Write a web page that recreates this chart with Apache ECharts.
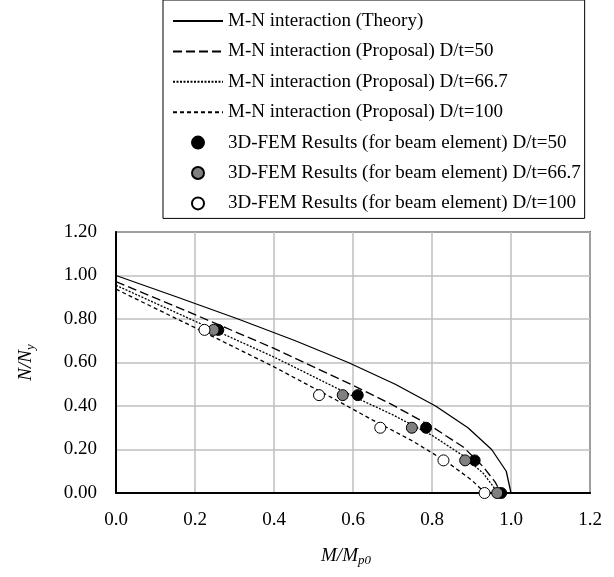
<!DOCTYPE html>
<html>
<head>
<meta charset="utf-8">
<script src="https://cdn.jsdelivr.net/npm/echarts@6/dist/echarts.min.js"></script>
<style>html,body{margin:0;padding:0;background:#fff}#c{width:614px;height:577px}</style>
</head>
<body>
<div id="c"></div>
<script>
// ---- data (M/Mp0, N/Ny) ----
var seriesNames = [
  'M-N interaction (Theory)',
  'M-N interaction (Proposal) D/t=50',
  'M-N interaction (Proposal) D/t=66.7',
  'M-N interaction (Proposal) D/t=100',
  '3D-FEM Results (for beam element) D/t=50',
  '3D-FEM Results (for beam element) D/t=66.7',
  '3D-FEM Results (for beam element) D/t=100'
];
var theory = [[0,1.0],[0.156,0.9],[0.309,0.8],[0.454,0.7],[0.588,0.6],[0.707,0.5],[0.809,0.4],[0.891,0.3],[0.951,0.2],[0.988,0.1],[1.0,0]];
var prop50 = [[0,0.972],[0.2,0.82],[0.4,0.665],[0.6,0.495],[0.7,0.405],[0.8,0.305],[0.88,0.21],[0.93,0.12],[0.96,0.05],[0.975,0]];
var prop667 = [[0,0.955],[0.2,0.79],[0.4,0.625],[0.6,0.445],[0.7,0.36],[0.8,0.265],[0.88,0.17],[0.93,0.09],[0.955,0.03],[0.965,0]];
var prop100 = [[0,0.937],[0.2,0.76],[0.4,0.58],[0.55,0.435],[0.65,0.335],[0.75,0.24],[0.84,0.14],[0.9,0.06],[0.935,0]];
var fem50 = [[0.259,0.75],[0.612,0.45],[0.785,0.30],[0.908,0.15],[0.975,0]];
var fem667 = [[0.247,0.75],[0.574,0.45],[0.749,0.30],[0.884,0.15],[0.965,0]];
var fem100 = [[0.224,0.75],[0.514,0.45],[0.669,0.30],[0.829,0.15],[0.933,0]];
var xTicks = {min: 0, max: 1.2, step: 0.2};
var yTicks = {min: 0, max: 1.2, step: 0.2};

var FONT = 'Liberation Serif';
var chart = echarts.init(document.getElementById('c'));

function lineSeries(name, data, dash) {
  return {
    name: name, type: 'line', data: data, symbol: 'none', showSymbol: false, smooth: false,
    color: '#000',
    itemStyle: {color: '#000'},
    lineStyle: {color: '#000', width: 1.3, type: dash}, z: 2, animation: false
  };
}
function scatterSeries(name, data, fill) {
  return {
    name: name, type: 'scatter', data: data, symbol: 'circle', symbolSize: 11,
    itemStyle: {color: fill, borderColor: '#000', borderWidth: 1, opacity: 1}, z: 3, animation: false
  };
}

var legendData = seriesNames.map(function (n, i) {
  return i < 4 ? {name: n, itemStyle: {opacity: 0}} : {name: n};
});

chart.setOption({
  animation: false,
  backgroundColor: '#fff',
  textStyle: {fontFamily: FONT},
  grid: {left: 116, right: 24, top: 232, bottom: 84, show: true, borderColor: '#000', borderWidth: 1.5, backgroundColor: 'transparent'},
  legend: {
    orient: 'vertical', left: 163, top: 0,
    padding: [11, 4, 5, 9], itemGap: 10.4,
    itemWidth: 50, itemHeight: 12,
    borderColor: '#000', borderWidth: 1, backgroundColor: '#fff',
    textStyle: {fontFamily: FONT, fontSize: 19, color: '#000', lineHeight: 20},
    data: legendData
  },
  xAxis: {
    type: 'value', min: xTicks.min, max: xTicks.max, interval: xTicks.step,
    axisLine: {show: true, lineStyle: {color: '#000', width: 2}},
    axisTick: {show: false},
    splitLine: {show: true, lineStyle: {color: '#bfbfbf', width: 1.5}},
    axisLabel: {fontFamily: FONT, fontSize: 19, color: '#000', margin: 18, formatter: function (v) { return v.toFixed(1); }},
    name: '{i|M/M}{s|p0}', nameLocation: 'middle', nameGap: 51,
    nameTextStyle: {padding: [0, 14, 0, 0], rich: {
      i: {fontFamily: FONT, fontSize: 19, fontStyle: 'italic', color: '#000'},
      s: {fontFamily: FONT, fontSize: 13, fontStyle: 'italic', color: '#000', padding: [10, 0, 0, 0]}
    }}
  },
  yAxis: {
    type: 'value', min: yTicks.min, max: yTicks.max, interval: yTicks.step,
    axisLine: {show: true, lineStyle: {color: '#000', width: 2}},
    axisTick: {show: false},
    splitLine: {show: true, lineStyle: {color: '#bfbfbf', width: 1.5}},
    axisLabel: {fontFamily: FONT, fontSize: 19, color: '#000', margin: 19, formatter: function (v) { return v.toFixed(2); }},
    name: '{i|N/N}{s|y}', nameLocation: 'middle', nameGap: 79,
    nameTextStyle: {rich: {
      i: {fontFamily: FONT, fontSize: 19, fontStyle: 'italic', color: '#000'},
      s: {fontFamily: FONT, fontSize: 13, fontStyle: 'italic', color: '#000', padding: [10, 0, 0, 0]}
    }}
  },
  series: [
    lineSeries(seriesNames[0], theory, 'solid'),
    lineSeries(seriesNames[1], prop50, [9, 4]),
    lineSeries(seriesNames[2], prop667, [2, 1.5]),
    lineSeries(seriesNames[3], prop100, [4, 3]),
    scatterSeries(seriesNames[4], fem50, '#000'),
    scatterSeries(seriesNames[5], fem667, '#808080'),
    scatterSeries(seriesNames[6], fem100, '#fff')
  ]
});
</script>
</body>
</html>
